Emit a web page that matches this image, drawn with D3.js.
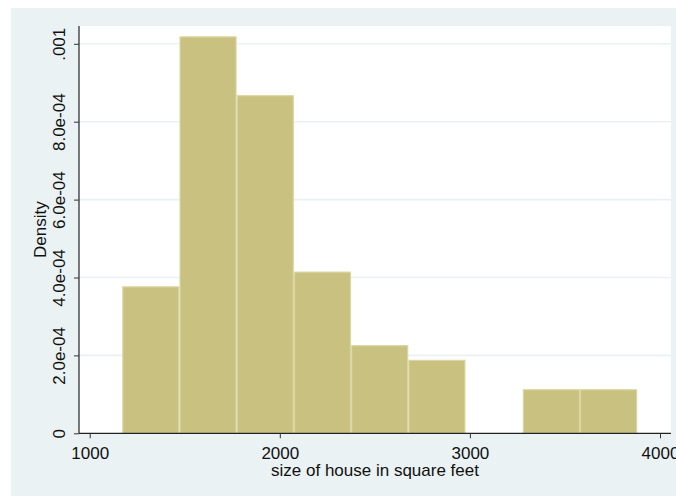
<!DOCTYPE html>
<html>
<head>
<meta charset="utf-8">
<script src="https://cdn.jsdelivr.net/npm/d3@7"></script>
<style>
  html, body { margin: 0; padding: 0; background: #ffffff; }
  svg { display: block; }
  text { font-family: "Liberation Sans", Arial, sans-serif; fill: #111; }
</style>
</head>
<body>
<svg id="chart" width="676" height="496"></svg>
<script>
// Histogram of house size (square feet), density scale
const binEdges = [1171, 1472, 1773, 2074, 2375, 2676, 2977, 3278, 3579, 3880];
const densities = [0.0003775, 0.0010193, 0.0008683, 0.0004153, 0.0002265, 0.0001888, 0, 0.0001133, 0.0001133];
const xTickValues = [1000, 2000, 3000, 4000];
const xTickLabels = ["1000", "2000", "3000", "4000"];
const yTickValues = [0, 0.0002, 0.0004, 0.0006, 0.0008, 0.001];
const yTickLabels = ["0", "2.0e-04", "4.0e-04", "6.0e-04", "8.0e-04", ".001"];
const xTitle = "size of house in square feet";
const yTitle = "Density";

const svg = d3.select("#chart");
const W = 676, H = 496;
const plot = { left: 79, right: 671, top: 26, bottom: 433.3 };
const FS = 17;

// outer graph region
svg.append("rect").attr("x", 11).attr("y", 8).attr("width", W - 11).attr("height", H - 8)
  .attr("fill", "#eaf2f3");
// plot region
svg.append("rect").attr("x", plot.left).attr("y", plot.top)
  .attr("width", plot.right - plot.left).attr("height", plot.bottom - plot.top)
  .attr("fill", "#ffffff");

const x = d3.scaleLinear().domain([943.7, 4057.9]).range([plot.left, plot.right]);
const y = d3.scaleLinear().domain([0, 0.0010457]).range([plot.bottom, plot.top]);

// horizontal grid lines
svg.append("g").selectAll("line")
  .data(yTickValues.filter(v => v > 0))
  .join("line")
  .attr("x1", plot.left).attr("x2", plot.right)
  .attr("y1", d => y(d)).attr("y2", d => y(d))
  .attr("stroke", "#e9f1f3").attr("stroke-width", 1.6);

// bars
const bins = densities.map((d, i) => ({ x0: binEdges[i], x1: binEdges[i + 1], v: d }));
svg.append("g").selectAll("rect")
  .data(bins.filter(b => b.v > 0))
  .join("rect")
  .attr("x", d => x(d.x0) + 0.6)
  .attr("width", d => x(d.x1) - x(d.x0) - 1.2)
  .attr("y", d => y(d.v) + 0.6)
  .attr("height", d => y(0) - y(d.v) - 0.6)
  .attr("fill", "#c9c17f")
  .attr("stroke", "#dad6a3")
  .attr("stroke-width", 1.2);

// y axis
const yAxis = d3.axisLeft(y)
  .tickValues(yTickValues)
  .tickFormat((d, i) => yTickLabels[i])
  .tickSize(5).tickPadding(6);
const gy = svg.append("g").attr("transform", `translate(${plot.left},0)`).call(yAxis);
gy.select(".domain").attr("d", `M0,${plot.top}V${plot.bottom}`).attr("stroke", "#222").attr("stroke-width", 1.2);
gy.selectAll(".tick line").attr("stroke", "#333");
gy.selectAll(".tick text")
  .attr("font-size", FS)
  .attr("font-family", "'Liberation Sans', Arial, sans-serif")
  .attr("fill", "#111")
  .attr("transform", "rotate(-90)")
  .attr("x", 0).attr("y", -14)
  .attr("dy", 0)
  .attr("text-anchor", "middle");

// x axis
const xAxis = d3.axisBottom(x)
  .tickValues(xTickValues)
  .tickFormat((d, i) => xTickLabels[i])
  .tickSize(5).tickPadding(8.5);
const gx = svg.append("g").attr("transform", `translate(0,${plot.bottom})`).call(xAxis);
gx.select(".domain").attr("d", `M${plot.left},0H${plot.right}`).attr("stroke", "#222").attr("stroke-width", 1.2);
gx.selectAll(".tick line").attr("stroke", "#333");
gx.selectAll(".tick text")
  .attr("font-size", FS)
  .attr("font-family", "'Liberation Sans', Arial, sans-serif")
  .attr("fill", "#111");

// axis titles
svg.append("text")
  .attr("x", (plot.left + plot.right) / 2).attr("y", 476)
  .attr("text-anchor", "middle").attr("font-size", FS)
  .text(xTitle);
svg.append("text")
  .attr("transform", `translate(46,${(plot.top + plot.bottom) / 2}) rotate(-90)`)
  .attr("text-anchor", "middle").attr("font-size", FS)
  .text(yTitle);
</script>
</body>
</html>
